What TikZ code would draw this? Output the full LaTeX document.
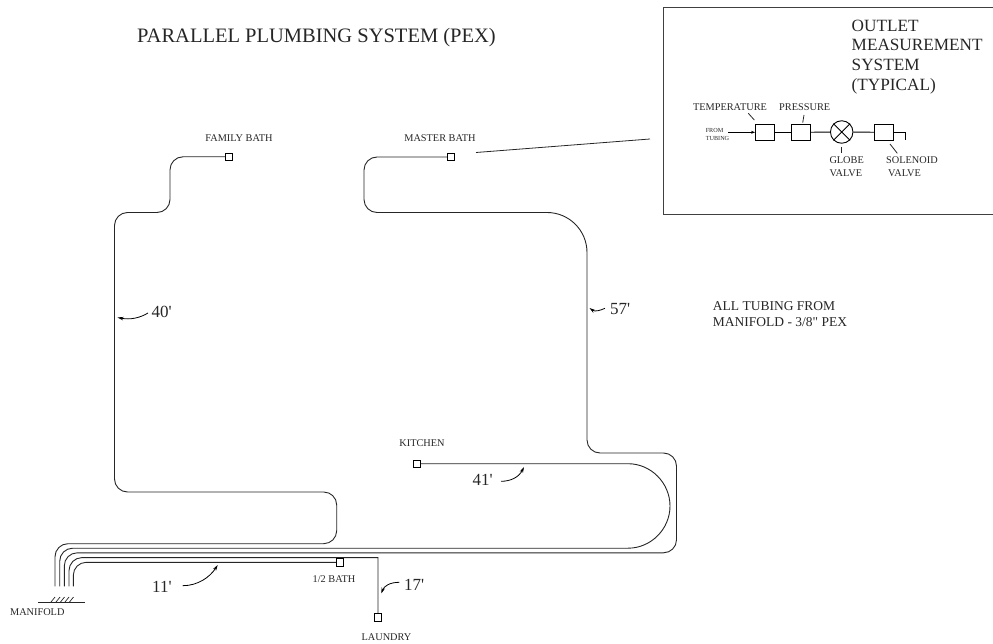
\documentclass[tikz,border=0pt]{standalone}
\usepackage{fontspec}
\setmainfont{Liberation Serif}[Ligatures=TeXOff]
\usetikzlibrary{arrows.meta}
\tikzset{
  pipe/.style={draw=black!85,line width=0.9pt,rounded corners=13pt},
  fixture/.style={draw=black,fill=white,line width=0.9pt,minimum size=7.5pt,inner sep=0pt,rectangle},
  instr/.style={draw=black,line width=0.9pt,minimum width=19pt,minimum height=16pt,inner sep=0pt,rectangle},
  lbl/.style={inner sep=0pt,text=black!85,font=\fontsize{10.3}{12}\selectfont},
  ilbl/.style={inner sep=0pt,anchor=west,align=left,text=black!85,font=\fontsize{10.3}{12.7}\selectfont},
  len/.style={inner sep=0pt,anchor=west,text=black!85,font=\fontsize{17}{19}\selectfont},
  leader/.style={draw=black,line width=0.8pt,-{Stealth[length=6pt,width=3.5pt]}},
  thin line/.style={draw=black!85,line width=0.8pt}
}
\begin{document}
\begin{tikzpicture}[x=1pt,y=-1pt]
\useasboundingbox (0,0) rectangle (993,644);
% fixtures
\node[fixture] (fam) at (229,156.8) {};
\node[fixture] (mas) at (451,157) {};
\node[fixture] (kit) at (416.7,463.7) {};
\node[fixture] (hb) at (340,562.3) {};
\node[fixture] (lau) at (378,617.3) {};
% manifold
\coordinate (m1) at (55,586.3);
\coordinate (m2) at (59.7,586.3);
\coordinate (m3) at (64.3,586.3);
\coordinate (m4) at (69,586.3);
\coordinate (m5) at (73.3,586.3);
\coordinate (mb1) at (38,602);
\coordinate (mb2) at (84.7,602);
\draw[thin line] (mb1) -- (mb2);
\foreach \x in {55,60,64.5,69,73.5} \draw[thin line,line width=0.7pt] (\x-4,602) -- (\x,597);
% pipes
\draw[pipe] (m1) -- (55,543.7) -- (336.7,543.7) -- (336.7,492) -- (114.5,492) -- (114.5,212.5) -- (170,212.5) -- (170,156.8) -- (fam.west);
\draw[pipe] (m2) -- (59.7,548.2) [sharp corners] -- (628,548.2) .. controls (651,548.2) and (670,529) .. (670,506) .. controls (670,483) and (651,463.7) .. (628,463.7) -- (kit.east);
\draw[pipe] (m3) -- (64.3,552.8) -- (676.5,552.8) -- (676.5,453) -- (587,453) [rounded corners=40pt] -- (587,212.5) [rounded corners=13pt] -- (364,212.5) -- (364,157) -- (mas.west);
\draw[pipe] (m4) -- (69,557.6) [sharp corners] -- (378,557.6) -- (lau.north);
\draw[pipe] (m5) -- (73.3,562.3) -- (hb.west);
% texts
\node[inner sep=0pt,anchor=west,text=black!85,font=\fontsize{20.5}{22}\selectfont] (title) at (137,38) {PARALLEL PLUMBING SYSTEM (PEX)};
\node[lbl] (lfam) at (239,138) {FAMILY BATH};
\node[lbl] (lmas) at (440,138) {MASTER BATH};
\node[lbl] (lkit) at (422,443.5) {KITCHEN};
\node[lbl] (lhb) at (334,579.5) {1/2 BATH};
\node[lbl] (llau) at (386.5,637.5) {LAUNDRY};
\node[lbl] (lman) at (37.3,612) {MANIFOLD};
\node[inner sep=0pt,anchor=west,align=left,text=black!85,font=\fontsize{13.5}{16}\selectfont] (note) at (712.7,313.7) {ALL TUBING FROM\\MANIFOLD - 3/8" PEX};
% lengths and leaders
\node[len] (l40) at (151.5,311.5) {40'};
\node[len] (l57) at (610,309.5) {57'};
\node[len] (l41) at (472.5,480) {41'};
\node[len] (l11) at (152,586.5) {11'};
\node[len] (l17) at (404,584.5) {17'};
\coordinate (t40) at (117.5,317.5); \coordinate (t57) at (589.5,308);
\coordinate (t41) at (524,467); \coordinate (t11) at (217.7,565); \coordinate (t17) at (381.3,593.5);
\draw[leader] (148,313) .. controls (140,318) and (130,320) .. (t40);
\draw[leader] (605,308.3) .. controls (600,310.5) and (595,312) .. (t57);
\draw[leader] (501,481.3) .. controls (511,481.3) and (519,477) .. (t41);
\draw[leader] (182.7,585.7) .. controls (198,585.7) and (210,577) .. (t11);
\draw[leader] (399.3,582.3) .. controls (390,582.3) and (384,586) .. (t17);
% inset
\node[draw=black!75,line width=0.9pt,minimum width=332pt,minimum height=207pt,inner sep=0pt,anchor=north west] (inset) at (663,7) {};
\draw[thin line] (476,152.5) -- (650,139);
\node[inner sep=0pt,anchor=north west,align=left,text=black!85,font=\fontsize{17.2}{19.7}\selectfont] (head) at (851.5,19.5) {OUTLET\\MEASUREMENT\\SYSTEM\\(TYPICAL)};
\node[instr] (temp) at (765,132.3) {};
\node[instr] (pres) at (801.2,132.3) {};
\node[draw=black,line width=0.9pt,circle,minimum size=22.5pt,inner sep=0pt] (glob) at (841.7,132) {};
\draw[line width=0.9pt] (glob.north west) -- (glob.south east) (glob.north east) -- (glob.south west);
\node[instr] (sol) at (883.8,132.3) {};
\coordinate (sta) at (728,132.3);
\coordinate (stb) at (905.7,132.3);
\coordinate (stc) at (905.7,140.5);
\draw[line width=0.9pt,-{Stealth[length=4pt,width=3pt]}] (sta) -- (temp.west);
\draw[line width=0.9pt] (temp) -- (pres);
\draw[line width=0.9pt] (pres) -- (glob);
\draw[line width=0.9pt] (glob) -- (sol);
\draw[line width=0.9pt] (sol.east) -- (stb) -- (stc);
\node[lbl] (ltemp) at (730,107.5) {TEMPERATURE};
\node[lbl] (lpres) at (804.7,107.5) {PRESSURE};
\node[ilbl] (lglob) at (829.3,166.7) {GLOBE\\VALVE};
\node[ilbl] (lsol) at (886,166.7) {SOLENOID\\\hspace*{2pt}VALVE};
\node[inner sep=0pt,align=left,text=black!85,font=\fontsize{6.2}{7.8}\selectfont] (lfrom) at (717.5,134.5) {FROM\\TUBING};
\draw[thin line] (748.3,113.3) -- (754.3,120);
\draw[thin line] (804,115) -- (802.7,122.7);
\draw[thin line] (841,147) -- (841,153);
\draw[thin line] (890,144) -- (897.3,153.3);
\end{tikzpicture}
\end{document}
